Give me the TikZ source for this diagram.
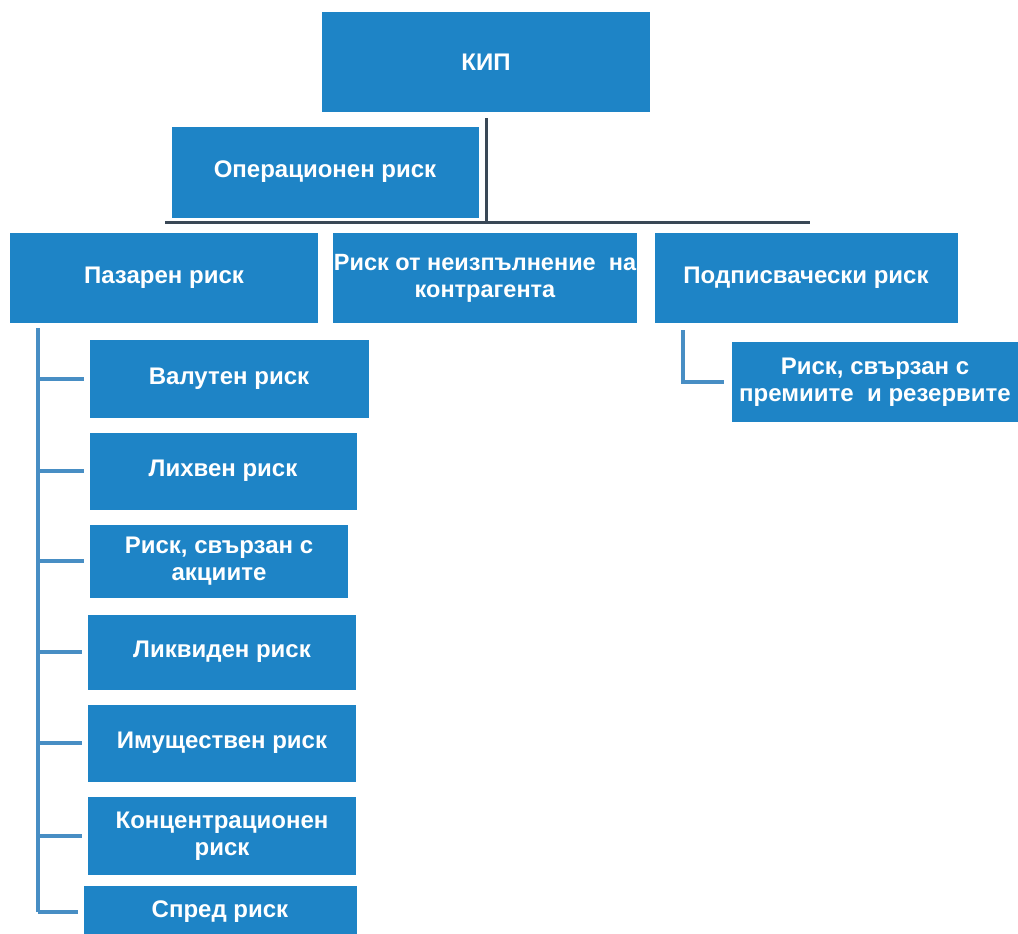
\documentclass[tikz,border=0pt]{standalone}
\usepackage{fontspec}
\setmainfont{Liberation Sans}
\usepackage{tikz}

\definecolor{boxblue}{RGB}{30,132,198}
\definecolor{treeline}{RGB}{58,72,86}
\definecolor{branchblue}{RGB}{72,142,196}

\begin{document}
\begin{tikzpicture}[x=1pt, y=-1pt,
  riskbox/.style={fill=boxblue, text=white, inner sep=0pt, outer sep=0pt,
    align=center, font=\bfseries\fontsize{24}{27}\selectfont},
  topline/.style={line width=3pt, color=treeline},
  branch/.style={line width=3.5pt, color=branchblue}]

\useasboundingbox (0,0) rectangle (1018,934);
\clip (0,0) rectangle (1018,934);

% top nodes

\node[riskbox, minimum width=328pt, minimum height=100pt] (kip) at (486, 62) {КИП};
\node[riskbox, minimum width=307pt, minimum height=91pt] (oper) at (325, 172) {Операционен риск};

% second row

\node[riskbox, minimum width=308pt, minimum height=90pt] (market) at (164, 278) {Пазарен риск};
\node[riskbox, minimum width=304pt, minimum height=90pt, font=\bfseries\fontsize{23.5}{27}\selectfont] (counter) at (485, 278) {Риск от неизпълнение\ \ на\\контрагента};
\node[riskbox, minimum width=303pt, minimum height=90pt] (underw) at (806, 278) {Подписвачески риск};

% market risk children

\node[riskbox, minimum width=279pt, minimum height=78pt] (fx) at (229, 379) {Валутен риск};
\node[riskbox, minimum width=267pt, minimum height=77pt] (rate) at (223, 471) {Лихвен риск};
\node[riskbox, minimum width=258pt, minimum height=73pt] (equity) at (219, 561) {Риск, свързан с\\акциите};
\node[riskbox, minimum width=268pt, minimum height=75pt] (liquid) at (222, 652) {Ликвиден риск};
\node[riskbox, minimum width=268pt, minimum height=77pt] (prop) at (222, 743) {Имуществен риск};
\node[riskbox, minimum width=268pt, minimum height=78pt] (conc) at (222, 836) {Концентрационен\\риск};
\node[riskbox, minimum width=273pt, minimum height=52pt] (spread) at (220, 912) {Спред риск};

% underwriting child

\node[riskbox, minimum width=286pt, minimum height=80pt] (prem) at (875, 382) {Риск, свързан с\\премиите\ \ и резервите};

% top connectors
\coordinate (busL) at (165, 222);
\coordinate (busR) at (810, 222);
\draw[topline] ([yshift=-6pt]kip.south) -- (kip.south |- busL);
\draw[topline] (busL) -- (busR);

% market risk branches
\coordinate (spine) at (38, 328);
\draw[branch] (spine) -- (spine |- spread.west);
\foreach \c in {fx, rate, equity, liquid, prop, conc, spread}
  \draw[branch] (spine |- \c.west) -- ([xshift=-6pt]\c.west);

% underwriting branch
\coordinate (uwspine) at (683, 330);
\draw[branch] (uwspine) |- ([xshift=-8pt]prem.west);

\end{tikzpicture}
\end{document}
